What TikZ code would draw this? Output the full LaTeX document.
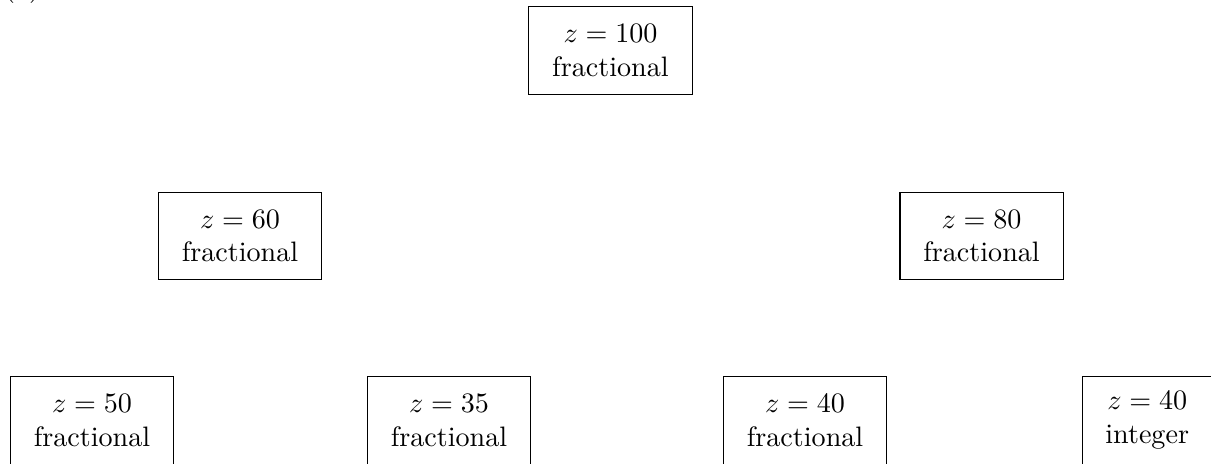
\documentclass[tikz,border=0pt]{standalone}
\begin{document}
\begin{tikzpicture}[>=stealth, lpnode/.style={draw, align=center, inner xsep=8.3pt, minimum height=1.09cm}]
        % Area visivel
        \useasboundingbox (0,0) rectangle (15.1375,-5.7875);
        \clip (0,0) rectangle (15.1375,-5.7875);

        % Rotulo
        \node[anchor=base] (lbl) at (0.275,0.04) {(a)};

        % Raiz
        \node[lpnode] (root) at (7.631,-0.631) {$z=100$\\fractional};

        % Segundo nivel
        \node[lpnode] (left) at (3.0,-2.95) {$z=60$\\fractional};
        \node[lpnode] (right) at (12.269,-2.95) {$z=80$\\fractional};

        % Folhas
        \node[lpnode] (ll) at (1.15,-5.256) {$z=50$\\fractional};
        \node[lpnode] (lr) at (5.6125,-5.256) {$z=35$\\fractional};
        \node[lpnode] (rl) at (10.0625,-5.256) {$z=40$\\fractional};
        \node[lpnode] (rr) at (14.34,-5.256) {$z=40$\\integer};

    \end{tikzpicture}
\end{document}
